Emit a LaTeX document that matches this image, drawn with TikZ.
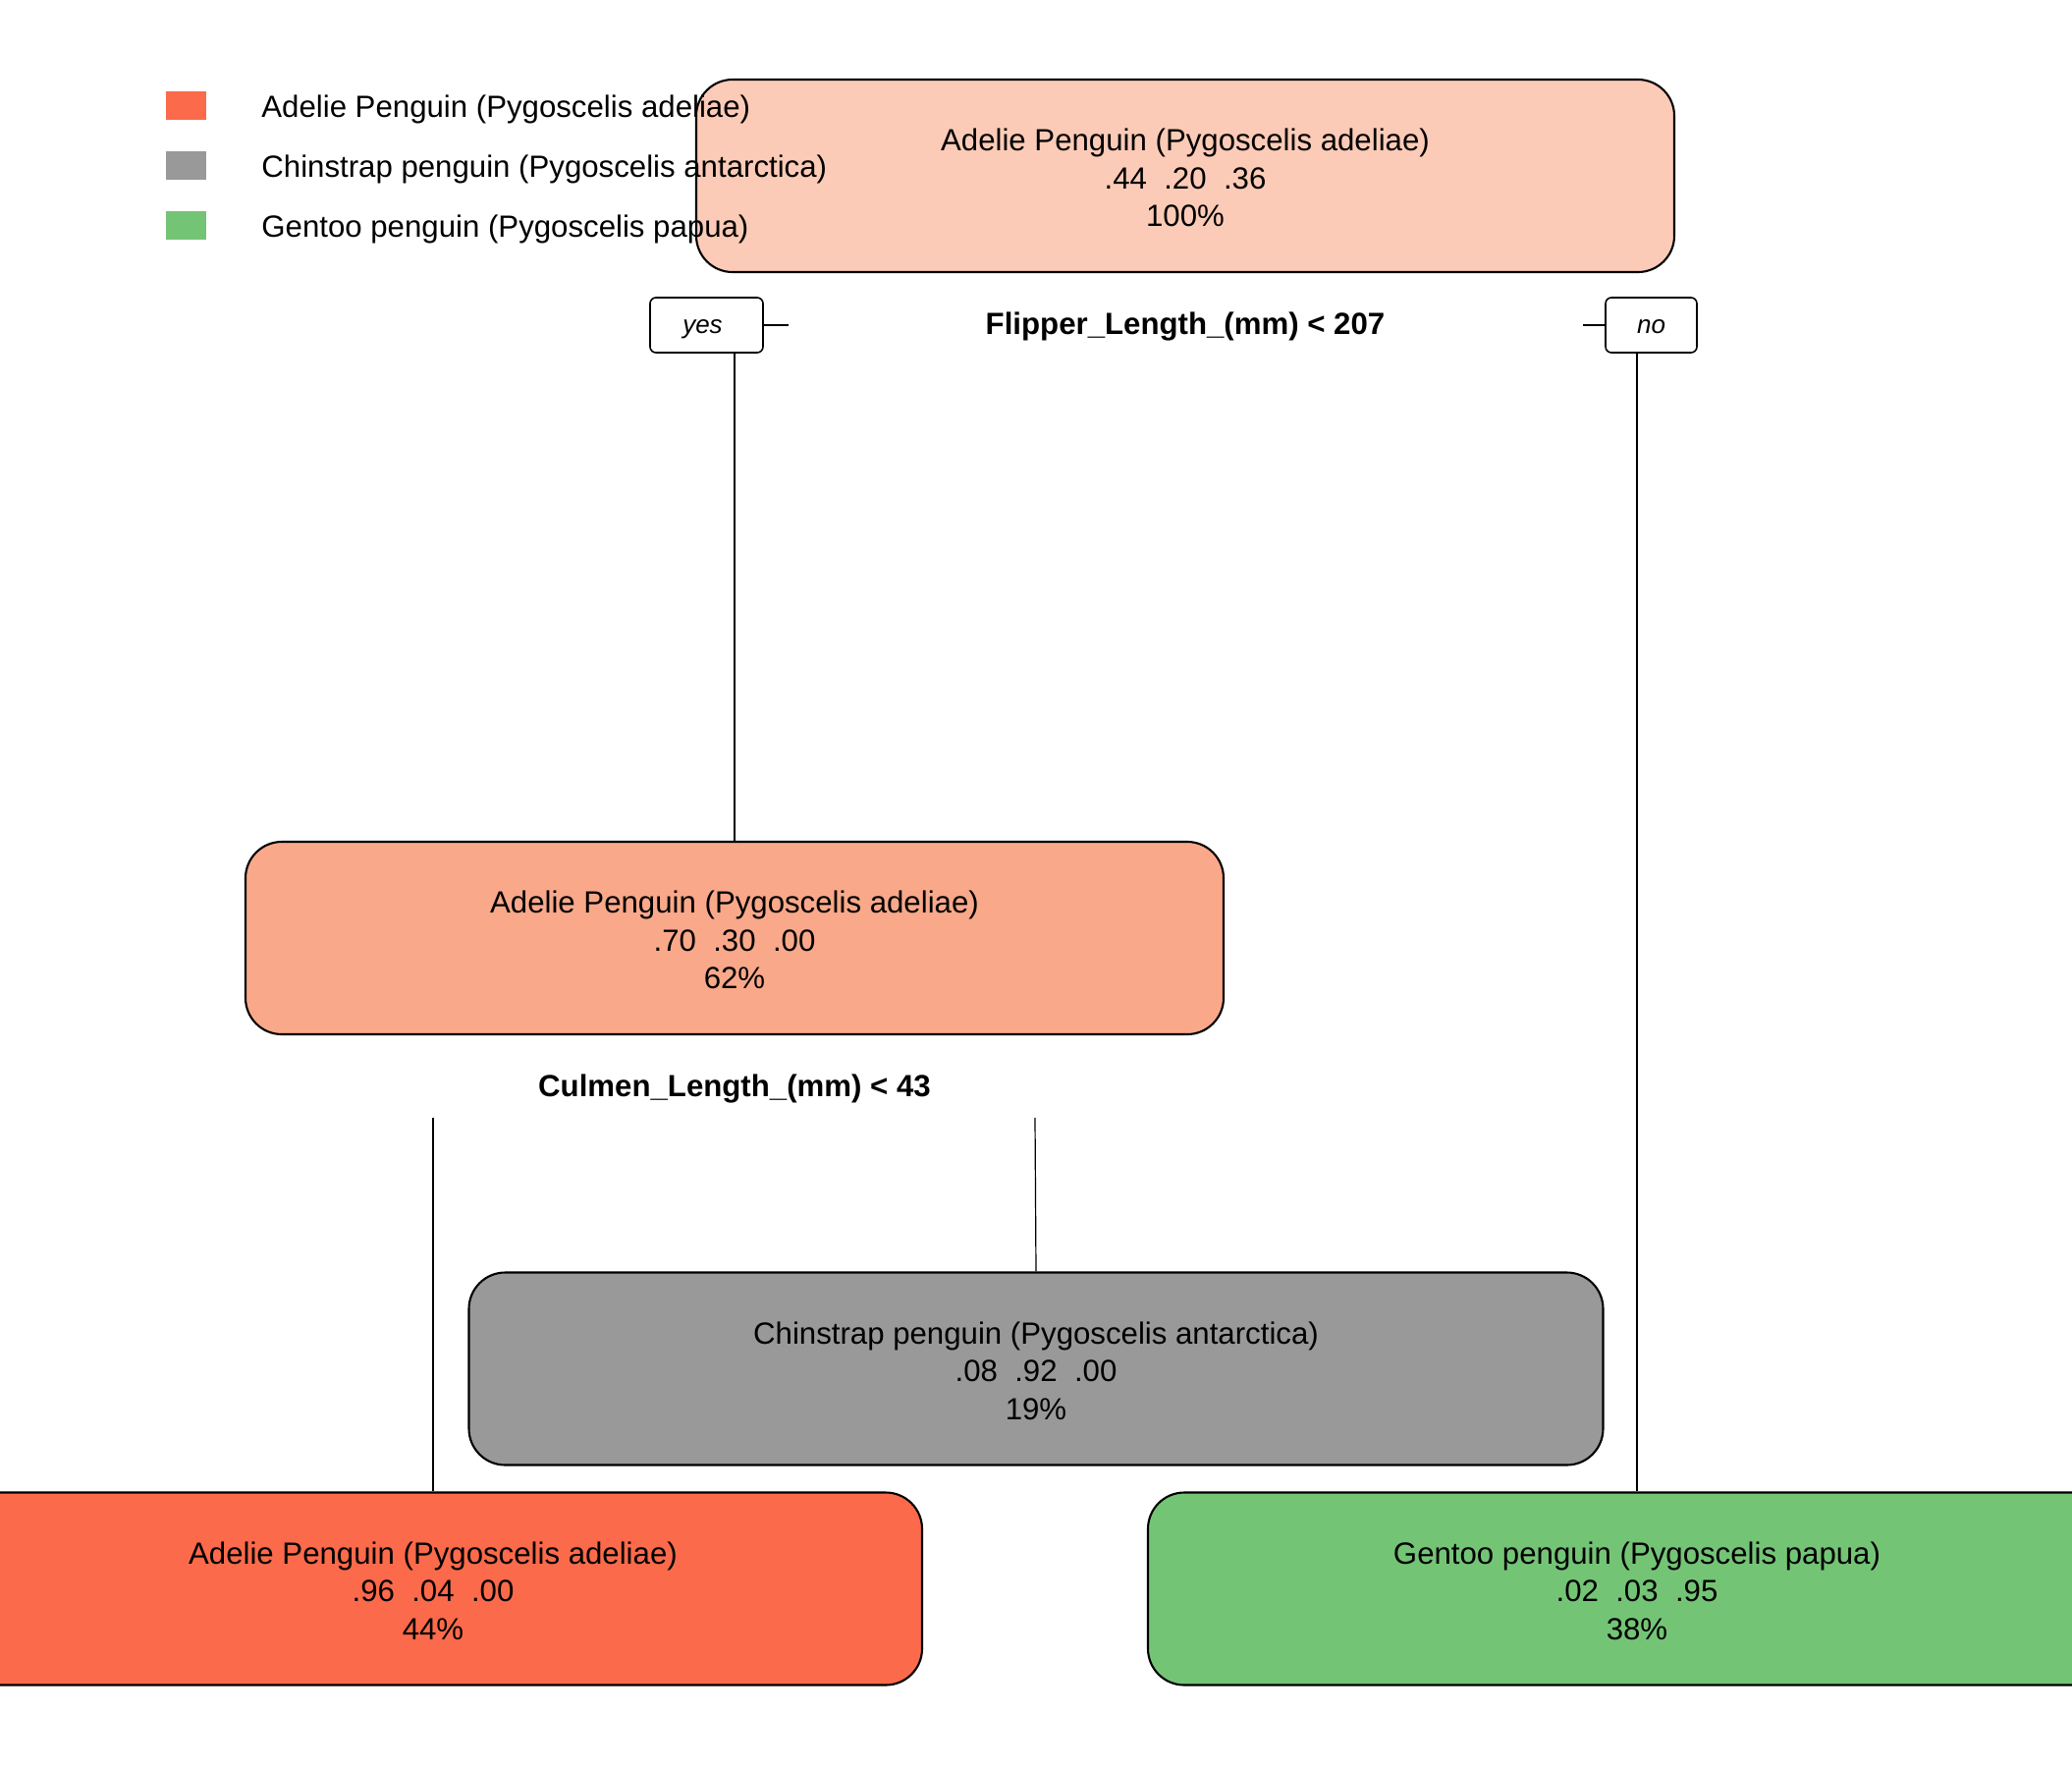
\documentclass[tikz,border=0pt]{standalone}
\usepackage{fontspec}
\setmainfont{Liberation Sans}
\definecolor{rootc}{RGB}{252,203,183}
\definecolor{midc}{RGB}{249,168,138}
\definecolor{adc}{RGB}{251,106,74}
\definecolor{chc}{RGB}{153,153,153}
\definecolor{gec}{RGB}{116,196,118}
\begin{document}
\begin{tikzpicture}[x=0.5pt,y=-0.5pt,
  treebox/.style={draw=black, line width=1.05pt, rounded corners=18.5pt,
    minimum width=498pt, minimum height=98pt, inner sep=0pt},
  treetext/.style={inner sep=0pt, align=center, yshift=-1.1pt,
    font=\fontsize{15.6}{19.25}\selectfont},
  splitlabel/.style={inner sep=0pt, yshift=-1.2pt, font=\fontsize{15.6}{19.25}\selectfont\bfseries},
  yesno/.style={draw=black, line width=0.8pt, rounded corners=3pt, inner sep=0pt,
    minimum height=28pt},
  yesnotext/.style={inner sep=0pt, anchor=base, yshift=-4.4pt, font=\fontsize{13}{15}\selectfont\itshape},
  conn/.style={draw=black, line width=0.6pt},
  legsq/.style={inner sep=0pt, minimum width=20.5pt, minimum height=14.5pt},
  legtxt/.style={inner sep=0pt, anchor=west, font=\fontsize{15.6}{19.25}\selectfont}]
\clip (0,0) rectangle (2110,1800);
\fill[white] (0,0) rectangle (2110,1800);

% boxes
\node[treebox, fill=rootc] (root) at (1207,179) {};
\node[treebox, fill=midc] (n2) at (748,955) {};
\node[treebox, fill=chc, minimum width=577.5pt] (ch) at (1055,1393.5) {};
\node[treebox, fill=adc] (ad) at (441,1617.5) {};
\node[treebox, fill=gec] (ge) at (1667,1617.5) {};

% box texts
\node[treetext] (root-t) at (root.center)
  {Adelie Penguin (Pygoscelis adeliae)\\.44\ \ .20\ \ .36\\100\%};
\node[treetext] (n2-t) at (n2.center)
  {Adelie Penguin (Pygoscelis adeliae)\\.70\ \ .30\ \ .00\\62\%};
\node[treetext] (ch-t) at (ch.center)
  {Chinstrap penguin (Pygoscelis antarctica)\\.08\ \ .92\ \ .00\\19\%};
\node[treetext] (ad-t) at (ad.center)
  {Adelie Penguin (Pygoscelis adeliae)\\.96\ \ .04\ \ .00\\44\%};
\node[treetext] (ge-t) at (ge.center)
  {Gentoo penguin (Pygoscelis papua)\\.02\ \ .03\ \ .95\\38\%};

% split labels
\node[splitlabel] (s1) at (1207,330) {Flipper\_Length\_(mm) < 207};
\node[splitlabel] (s2) at (748,1106) {Culmen\_Length\_(mm) < 43};

% yes / no boxes
\node[yesno, minimum width=57.5pt] (yes) at (719.5,331) {};
\node[yesno, minimum width=46.5pt] (no) at (1681.5,331) {};
\node[yesnotext] (yes-t) at ([xshift=-2pt]yes.center) {yes};
\node[yesnotext] (no-t) at (no.center) {no};

% connectors
\coordinate (yestick) at (803,331);
\coordinate (notick) at (1612,331);
\draw[conn] (yes.east) -- (yestick);
\draw[conn] (notick) -- (no.west);
\draw[conn] (n2.north |- yes.south) -- (n2.north);
\draw[conn] (ge.north |- no.south) -- (ge.north);
\coordinate (l2) at (441,1138);
\coordinate (r2) at (1054,1138);
\draw[conn] (l2) -- (ad.north);
\draw[conn] (r2) -- (ch.north);

% legend
\node[legsq, fill=adc] (lg1) at (189.5,107.5) {};
\node[legsq, fill=chc] (lg2) at (189.5,168.5) {};
\node[legsq, fill=gec] (lg3) at (189.5,229.5) {};
\node[legtxt] (lt1) at (266,111.5) {Adelie Penguin (Pygoscelis adeliae)};
\node[legtxt] (lt2) at (266,172.5) {Chinstrap penguin (Pygoscelis antarctica)};
\node[legtxt] (lt3) at (266,233.5) {Gentoo penguin (Pygoscelis papua)};
\end{tikzpicture}
\end{document}
